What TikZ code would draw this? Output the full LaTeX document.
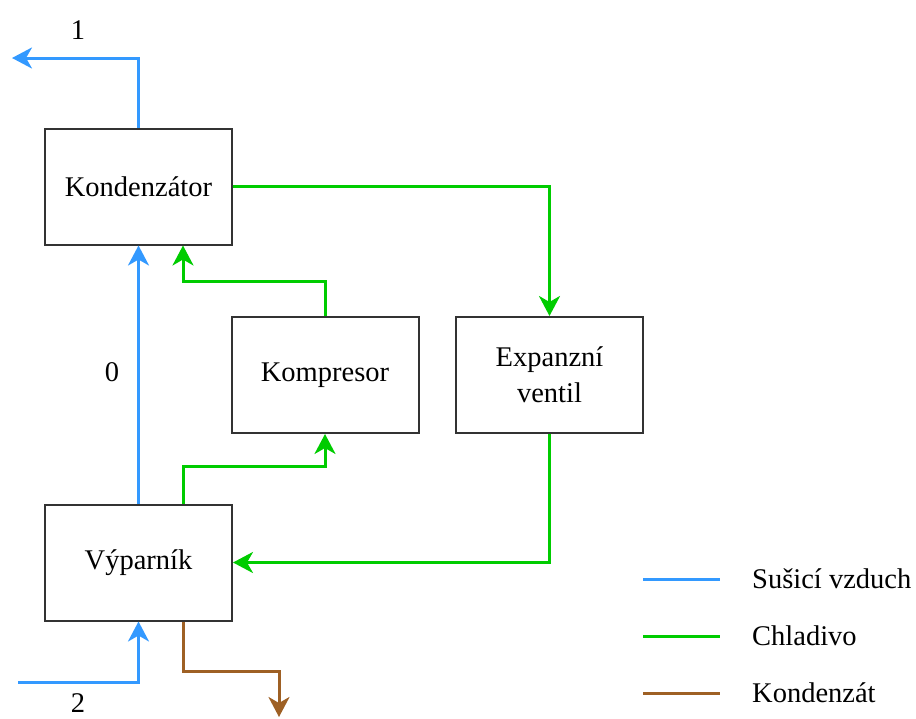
\documentclass[tikz,border=0pt]{standalone}
\usepackage{fontspec}
\setmainfont{Liberation Serif}
\usetikzlibrary{arrows.meta}
\definecolor{airblue}{RGB}{51,153,255}
\definecolor{refgreen}{RGB}{0,204,0}
\definecolor{condbrown}{RGB}{158,96,36}
\definecolor{boxgray}{RGB}{51,51,51}
\tikzset{
  unit/.style={draw=boxgray, line width=2pt, fill=white, minimum width=187pt, minimum height=116pt, inner sep=0pt, align=center, font=\fontsize{28.5}{36}\selectfont},
  flow/.style={line width=3pt, -{Stealth[length=20pt,width=21pt,inset=6pt]}},
  air/.style={flow, draw=airblue, color=airblue},
  refr/.style={flow, draw=refgreen, color=refgreen},
  cond/.style={flow, draw=condbrown, color=condbrown},
  leg/.style={line width=3pt},
  lbl/.style={font=\fontsize{28.5}{36}\selectfont, inner sep=0pt},
}
\begin{document}
\begin{tikzpicture}[x=1pt,y=-1pt]
\useasboundingbox (0,0) rectangle (916,718);
\node[unit] (kond) at (138.5,186.5) {Kondenzátor};
\node[unit] (komp) at (325,375) {Kompresor};
\node[unit] (exp) at (549.5,375) {Expanzní\\ventil};
\node[unit] (vyp) at (138.5,562.5) {Výparník};
% free ends and bends
\coordinate (out1) at (12,58);
\coordinate (in2) at (18,682);
\coordinate (k1) at (183,281);
\coordinate (k2) at (183,466);
\coordinate (b1) at (183,671);
\coordinate (b2) at (279,717);
% air
\draw[air] (kond.north) |- (out1);
\draw[air] (vyp.north) -- (kond.south);
\draw[air] (in2) -| (vyp.south);
% refrigerant
\draw[refr] (kond.east) -| (exp.north);
\draw[refr] (komp.north) |- (k1) -- (k1 |- kond.south);
\draw[refr] (k2 |- vyp.north) -- (k2) -| (komp.south);
\draw[refr] (exp.south) |- (vyp.east);
% condensate
\draw[cond] (b1 |- vyp.south) -- (b1) -| (b2);
% labels
\node[lbl] (l1) at (78,30) {1};
\node[lbl] (l0) at (112,372) {0};
\node[lbl] (l2) at (78,703) {2};
% legend
\coordinate (la1) at (643,579); \coordinate (lb1) at (720,579);
\coordinate (la2) at (643,636); \coordinate (lb2) at (720,636);
\coordinate (la3) at (643,693); \coordinate (lb3) at (720,693);
\draw[leg, airblue] (la1) -- (lb1);
\draw[leg, refgreen] (la2) -- (lb2);
\draw[leg, condbrown] (la3) -- (lb3);
\node[lbl, anchor=west] (t1) at (752,579) {Sušicí vzduch};
\node[lbl, anchor=west] (t2) at (752,636) {Chladivo};
\node[lbl, anchor=west] (t3) at (752,693) {Kondenzát};
\end{tikzpicture}
\end{document}
